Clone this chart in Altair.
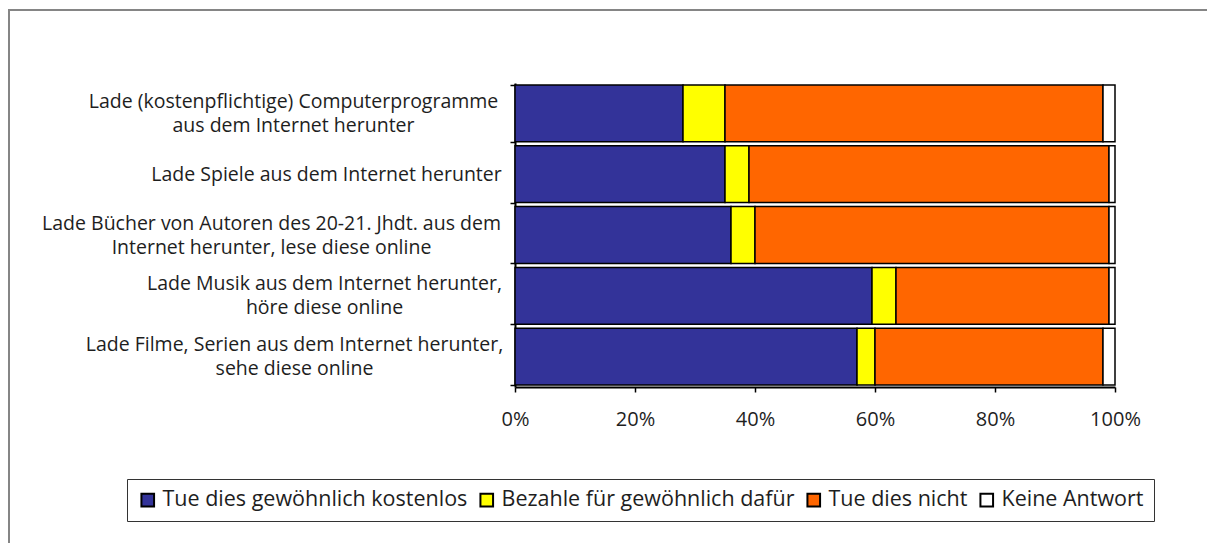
import altair as alt
import pandas as pd

categories = [
    "Lade (kostenpflichtige) Computerprogramme|aus dem Internet herunter",
    "Lade Spiele aus dem Internet herunter",
    "Lade Bücher von Autoren des 20-21. Jhdt. aus dem|Internet herunter, lese diese online",
    "Lade Musik aus dem Internet herunter,|höre diese online",
    "Lade Filme, Serien aus dem Internet herunter,|sehe diese online",
]
series = [
    "Tue dies gewöhnlich kostenlos",
    "Bezahle für gewöhnlich dafür",
    "Tue dies nicht",
    "Keine Antwort",
]
kostenlos = [28, 35, 36, 59.5, 57]
bezahle = [7, 4, 4, 4, 3]
nicht = [63, 60, 59, 35.5, 38]
keine = [2, 1, 1, 1, 2]
colors = ["#333399", "#FFFF00", "#FF6600", "#FFFFFF"]
x_ticks = [0, 0.2, 0.4, 0.6, 0.8, 1.0]
# distance from the axis to the centre of each (centred, multi-line) label block
label_pad = [217, 184, 239, 186, 216]

rows = []
for s_i, (name, vals) in enumerate(zip(series, [kostenlos, bezahle, nicht, keine])):
    for c, v in zip(categories, vals):
        rows.append({"cat": c, "series": name, "order": s_i, "value": v})
df = pd.DataFrame(rows)

FONT = "Open Sans"
TXT = "#1e1e1e"

pad_cond = {
    "condition": [
        {"test": f"datum.value === '{c}'", "value": p}
        for c, p in zip(categories, label_pad)
    ],
    "value": 200,
}
# two-line labels: centre the whole block on the band
baseline_cond = {
    "condition": [
        {"test": f"datum.value === '{c}'", "value": "line-bottom"}
        for c in categories if "|" in c
    ],
    "value": "middle",
}

bars = alt.Chart(df).mark_bar(stroke="black", strokeWidth=1.5).encode(
    y=alt.Y(
        "cat:N",
        sort=categories,
        title=None,
        scale=alt.Scale(paddingInner=0.066, paddingOuter=0.033),
        axis=alt.Axis(
            labelExpr="split(datum.label, '|')",
            labelAlign="center",
            labelBaseline=baseline_cond,
            labelPadding=pad_cond,
            labelLineHeight=24,
            labelFontSize=19.5,
            labelFont=FONT,
            labelColor=TXT,
            labelLimit=600,
            tickBand="extent",
            tickSize=5,
            tickColor="black",
            tickWidth=1.5,
            domainColor="black",
            domainWidth=2,
        ),
    ),
    x=alt.X(
        "value:Q",
        stack="normalize",
        title=None,
        scale=alt.Scale(domain=[0, 1], nice=False),
        axis=alt.Axis(
            values=x_ticks,
            format=".0%",
            labelFontSize=20,
            labelFont=FONT,
            labelColor=TXT,
            labelPadding=17,
            tickSize=5,
            tickColor="black",
            tickWidth=1.5,
            domainColor="black",
            domainWidth=2,
            grid=False,
            labelFlush=False,
        ),
    ),
    color=alt.Color(
        "series:N",
        sort=series,
        scale=alt.Scale(domain=series, range=colors),
        legend=alt.Legend(
            title=None,
            orient="none",
            legendX=-388,
            legendY=396,
            direction="horizontal",
            strokeColor="#333",
            padding=10,
            symbolType="square",
            symbolSize=160,
            symbolStrokeColor="black",
            symbolStrokeWidth=2,
            symbolOpacity=1,
            labelFontSize=21.5,
            labelFont=FONT,
            labelColor=TXT,
            labelOffset=4,
            columnPadding=8,
            labelLimit=400,
        ),
    ),
    order=alt.Order("order:Q"),
)

# outer frame of the original picture (right and bottom edges lie outside the page)
frame = alt.Chart(alt.Data(values=[{"k": 1}])).mark_rect(
    filled=False, stroke="#858585", strokeWidth=2
).encode(
    x=alt.value(-506), x2=alt.value(760), y=alt.value(-73), y2=alt.value(520)
)

chart = alt.layer(frame, bars).properties(
    width=600,
    height=304,
    autosize=alt.AutoSizeParams(type="none"),
    padding={"left": 507, "top": 75, "right": 92, "bottom": 156},
    background="white",
).configure_view(strokeWidth=0)

chart.save("out.html", embed_options={"renderer": "svg", "actions": False})
